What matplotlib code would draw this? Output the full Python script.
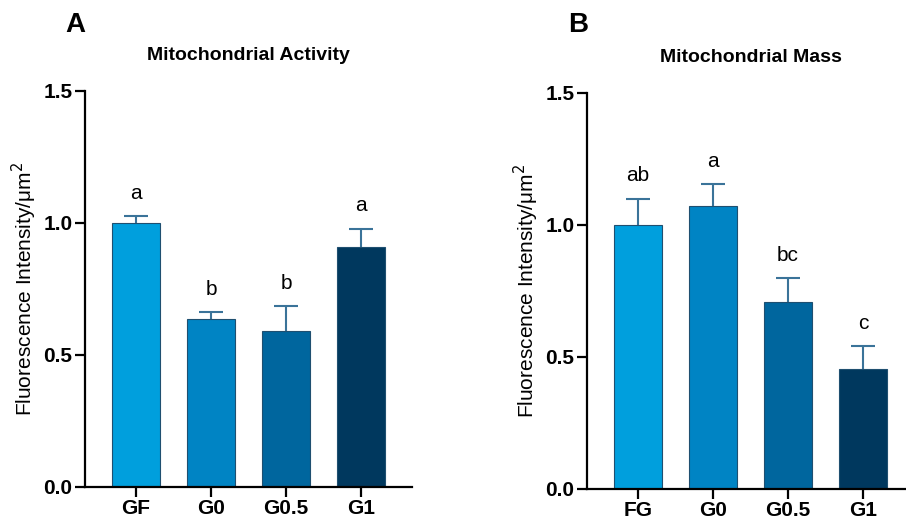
import matplotlib.pyplot as plt
import numpy as np

plt.rcParams['font.family'] = ['Liberation Sans', 'DejaVu Sans']

groups_a = ["GF", "G0", "G0.5", "G1"]
activity = [1.0, 0.637, 0.590, 0.910]
activity_err = [0.026, 0.025, 0.094, 0.069]
activity_sig = ["a", "b", "b", "a"]

groups_b = ["FG", "G0", "G0.5", "G1"]
mass = [1.0, 1.072, 0.707, 0.454]
mass_err = [0.100, 0.084, 0.091, 0.086]
mass_sig = ["ab", "a", "bc", "c"]

colors = ["#009fdd", "#0084c4", "#00669e", "#00385e"]
err_color = "#3a7399"
W, H = 906, 528


def draw_panel(ax, groups, vals, errs, sig, title):
    x = np.arange(len(groups))
    vals = np.array(vals)
    errs = np.array(errs)
    ax.bar(x, vals, width=0.65, color=colors, edgecolor="#1f4f70", linewidth=0.8, zorder=2)
    # upper error bars only, stem starts at bar top
    ax.vlines(x, vals, vals + errs, color=err_color, linewidth=1.5, zorder=1)
    ax.hlines(vals + errs, x - 0.16, x + 0.16, color=err_color, linewidth=1.5, zorder=1)
    for xi, v, e, s in zip(x, vals, errs, sig):
        ax.text(xi, v + e + 0.05, s, ha="center", va="bottom", fontsize=15)
    ax.set_xlim(-0.68, 3.68)
    ax.set_ylim(0, 1.5)
    ax.set_yticks([0.0, 0.5, 1.0, 1.5])
    ax.set_yticklabels(["0.0", "0.5", "1.0", "1.5"], fontsize=15, fontweight="bold")
    ax.set_xticks(x)
    ax.set_xticklabels(groups, fontsize=15, fontweight="bold")
    ax.spines["top"].set_visible(False)
    ax.spines["right"].set_visible(False)
    ax.spines["left"].set_linewidth(1.6)
    ax.spines["bottom"].set_linewidth(1.6)
    ax.tick_params(axis="both", length=7, width=1.6, pad=2)
    ax.set_ylabel("Fluorescence Intensity/μm$^2$", fontsize=15, labelpad=3)
    ax.set_title(title, fontsize=14, fontweight="bold", pad=22)


fig = plt.figure(figsize=(W / 100, H / 100), dpi=100)
ax1 = fig.add_axes([85 / W, 1 - 487 / H, 327 / W, 396 / H])
ax2 = fig.add_axes([587 / W, 1 - 489 / H, 327 / W, 396 / H])

draw_panel(ax1, groups_a, activity, activity_err, activity_sig, "Mitochondrial Activity")
draw_panel(ax2, groups_b, mass, mass_err, mass_sig, "Mitochondrial Mass")

fig.text(75 / W, 1 - 25 / H, "A", fontsize=20, fontweight="bold", ha="center", va="center")
fig.text(578 / W, 1 - 25 / H, "B", fontsize=20, fontweight="bold", ha="center", va="center")

fig.savefig("out.png", dpi=100)
